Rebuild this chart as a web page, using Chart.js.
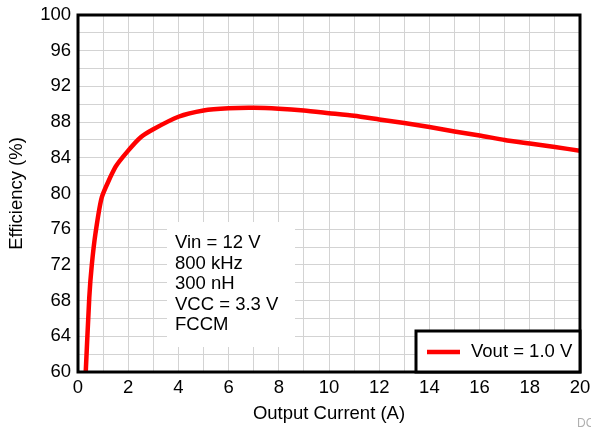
<!DOCTYPE html>
<html>
<head>
<meta charset="utf-8">
<script src="https://cdn.jsdelivr.net/npm/chart.js@4/dist/chart.umd.min.js"></script>
<style>
  html, body { margin: 0; padding: 0; background: #fff; }
  #wrap { width: 591px; height: 431px; }
</style>
</head>
<body>
<div id="wrap"><canvas id="effChart" width="591" height="431"></canvas></div>
<script>
// data
const currentA = [0.3, 0.45, 0.55, 0.7, 0.95, 1.5, 2, 2.5, 3, 4, 5, 6, 7, 8, 9, 10, 11, 12, 13, 14, 15, 16, 17, 18, 19, 20];
const efficiency = [59.5, 68.4, 72.0, 75.6, 79.6, 83.0, 84.8, 86.3, 87.2, 88.6, 89.3, 89.55, 89.6, 89.5, 89.3, 89.0, 88.7, 88.3, 87.9, 87.45, 86.95, 86.5, 86.0, 85.6, 85.2, 84.8];
const seriesLabel = 'Vout = 1.0 V';
const noteLines = ['Vin = 12 V', '800 kHz', '300 nH', 'VCC = 3.3 V', 'FCCM'];

const FONT = '"Liberation Sans", Arial, Helvetica, sans-serif';
const FSIZE = 18.5;

// white note box over the grid + frame + legend box
const overlay = {
    id: 'overlay',
    beforeDatasetsDraw(chart) {
        const { ctx } = chart;
        ctx.save();
        ctx.fillStyle = '#fff';
        ctx.fillRect(167, 222, 128, 125);
        ctx.fillStyle = '#000';
        ctx.font = FSIZE + 'px ' + FONT;
        ctx.textBaseline = 'middle';
        noteLines.forEach((t, i) => ctx.fillText(t, 175, 243 + i * 20.6));
        ctx.restore();
    },
    afterDatasetsDraw(chart) {
        const { ctx, chartArea: a } = chart;
        ctx.save();
        ctx.strokeStyle = '#000';
        ctx.lineWidth = 3;
        ctx.strokeRect(a.left, a.top, a.right - a.left, a.bottom - a.top);

        // legend
        ctx.fillStyle = '#fff';
        ctx.fillRect(416, 331, a.right - 416, a.bottom - 331);
        ctx.strokeRect(416, 331, a.right - 416, a.bottom - 331);
        ctx.strokeStyle = '#ff0000';
        ctx.lineWidth = 4.5;
        ctx.beginPath();
        ctx.moveTo(427, 352);
        ctx.lineTo(460, 352);
        ctx.stroke();
        ctx.fillStyle = '#000';
        ctx.font = FSIZE + 'px ' + FONT;
        ctx.textBaseline = 'middle';
        ctx.fillText(seriesLabel, 471, 352);

        ctx.fillStyle = '#b0b0b0';
        ctx.font = '12px ' + FONT;
        ctx.fillText('DC', 577, 424);
        ctx.restore();
    }
};

new Chart(document.getElementById('effChart'), {
    type: 'line',
    data: {
        datasets: [{
            label: seriesLabel,
            data: currentA.map((x, i) => ({ x: x, y: efficiency[i] })),
            borderColor: '#ff0000',
            borderWidth: 4.5,
            pointRadius: 0,
            tension: 0.2,
            fill: false
        }]
    },
    options: {
        responsive: false,
        animation: false,
        layout: { padding: { top: 15, right: 11, left: 0, bottom: 0 } },
        plugins: {
            legend: { display: false },
            tooltip: { enabled: false }
        },
        scales: {
            x: {
                type: 'linear',
                min: 0,
                max: 20,
                afterFit: s => { s.height = 59; s.paddingLeft = 0; s.paddingRight = 0; },
                ticks: {
                    stepSize: 1,
                    autoSkip: false,
                    maxRotation: 0,
                    padding: 5,
                    color: '#000',
                    font: { family: FONT, size: FSIZE },
                    callback: v => (v % 2 === 0 ? v : '')
                },
                grid: { color: '#d3d3d3', lineWidth: 1, drawTicks: false },
                border: { display: false },
                title: {
                    display: true,
                    text: 'Output Current (A)',
                    color: '#000',
                    font: { family: FONT, size: FSIZE },
                    padding: { top: 4, bottom: 6 }
                }
            },
            y: {
                min: 60,
                max: 100,
                afterFit: s => { s.width = 78; s.paddingTop = 0; s.paddingBottom = 0; },
                ticks: {
                    stepSize: 2,
                    autoSkip: false,
                    padding: 7,
                    color: '#000',
                    font: { family: FONT, size: FSIZE },
                    callback: v => (v % 4 === 0 ? v : '')
                },
                grid: { color: '#d3d3d3', lineWidth: 1, drawTicks: false },
                border: { display: false },
                title: {
                    display: true,
                    text: 'Efficiency (%)',
                    color: '#000',
                    font: { family: FONT, size: FSIZE },
                    padding: { top: 6, bottom: 4 }
                }
            }
        }
    },
    plugins: [overlay]
});
</script>
</body>
</html>
